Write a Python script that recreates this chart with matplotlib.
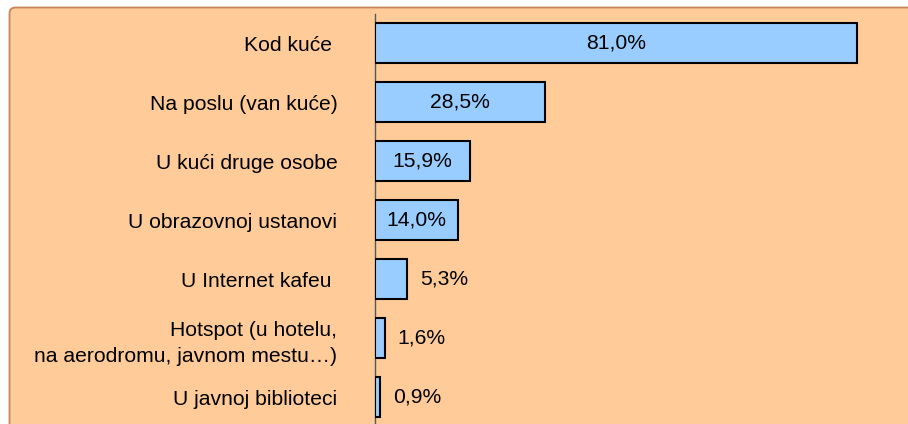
import matplotlib
matplotlib.use("Agg")
import matplotlib.pyplot as plt
from matplotlib.patches import FancyBboxPatch, PathPatch
from matplotlib.path import Path
from matplotlib.transforms import IdentityTransform

categories = ["Kod kuće ", "Na poslu (van kuće)", "U kući druge osobe", "U obrazovnoj ustanovi",
              "U Internet kafeu ", "Hotspot (u hotelu,\nna aerodromu, javnom mestu…)", "U javnoj biblioteci"]
values = [81.0, 28.5, 15.9, 14.0, 5.3, 1.6, 0.9]
value_labels = ["81,0%", "28,5%", "15,9%", "14,0%", "5,3%", "1,6%", "0,9%"]

plt.rcParams['font.family'] = ['Liberation Sans', 'DejaVu Sans']
FS = 15.2

W, H = 908, 424
fig = plt.figure(figsize=(W / 100, H / 100), dpi=100)
fig.patch.set_facecolor("white")

# background panel in pixel coordinates (origin bottom-left)
x0, ytop, r = 9.5, H - 7.5, 6
bg = FancyBboxPatch((x0, -60), W + 100, ytop + 60,
                    boxstyle="round,pad=0,rounding_size=6",
                    transform=IdentityTransform(), facecolor="#FFCC99",
                    edgecolor="none", zorder=-10)
fig.patches.append(bg)
edge = Path([(x0, -10), (x0, ytop - r), (x0, ytop), (x0 + r, ytop), (W + 10, ytop)],
            [Path.MOVETO, Path.LINETO, Path.CURVE3, Path.CURVE3, Path.LINETO])
fig.patches.append(PathPatch(edge, transform=IdentityTransform(), fill=False,
                             edgecolor="#C8845A", linewidth=1.3, zorder=-9))

left = 375 / W
top_px, bot_px = 13.5, 426.5
ax = fig.add_axes([left, 1 - bot_px / H, (85 * 5.95) / W, (bot_px - top_px) / H])
ax.set_facecolor("none")
ax.set_zorder(1)

y = list(range(len(values)))
ax.barh(y, values, height=0.68, color="#99CCFF", edgecolor="black", linewidth=1.5, zorder=3)
ax.set_ylim(6.5, -0.5)
ax.set_xlim(0, 85)

for i, (v, lab) in enumerate(zip(values, value_labels)):
    if v >= 10:
        ax.text(v / 2, i, lab, ha="center", va="center", fontsize=FS, color="black", zorder=4)
    else:
        ax.annotate(lab, (v, i), xytext=(9.5, 0), textcoords="offset points",
                    ha="left", va="center", fontsize=FS, color="black", zorder=4)

ax.set_yticks(y)
ax.set_yticklabels(categories, fontsize=FS, linespacing=1.45)
ax.tick_params(axis="y", length=0, pad=27)
ax.set_xticks([])
for s in ["top", "right", "bottom"]:
    ax.spines[s].set_visible(False)
ax.spines["left"].set_color("#555555")
ax.spines["left"].set_linewidth(1.0)

fig.savefig("out.png", dpi=100, facecolor=fig.get_facecolor())
